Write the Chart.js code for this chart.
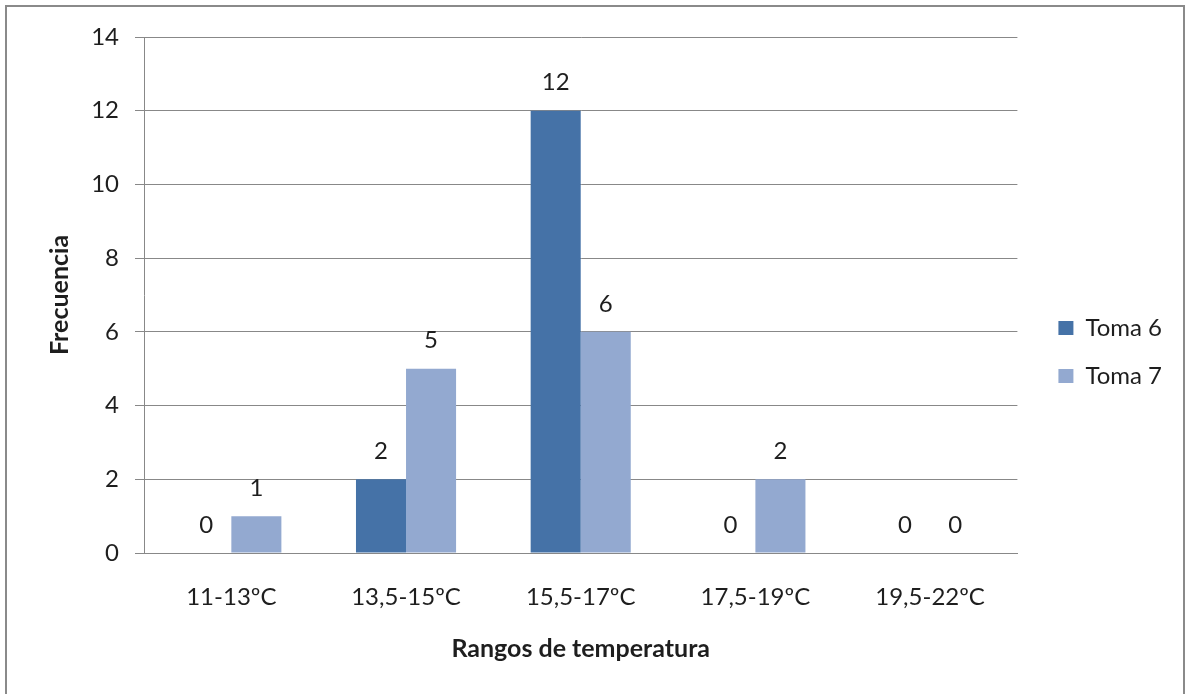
<!DOCTYPE html>
<html>
<head>
<meta charset="utf-8">
<script src="https://cdn.jsdelivr.net/npm/chart.js@4/dist/chart.umd.min.js"></script>
<style>
  html, body { margin: 0; padding: 0; background: #fff; overflow: hidden; }
  #wrap { position: absolute; left: 0; top: 0; width: 1185px; height: 694px; }
  #frame { position: absolute; left: 5px; top: 5px; width: 1176px; height: 700px;
           border: 2px solid #8a8a8a; pointer-events: none; }
</style>
</head>
<body>
<div id="wrap">
  <canvas id="c" width="1185" height="694"></canvas>
  <div id="frame"></div>
</div>
<script>
const categories = ['11-13ºC', '13,5-15ºC', '15,5-17ºC', '17,5-19ºC', '19,5-22ºC'];
const toma6 = [0, 2, 12, 0, 0];
const toma7 = [1, 5, 6, 2, 0];
const seriesNames = ['Toma 6', 'Toma 7'];
const yTicks = [0, 2, 4, 6, 8, 10, 12, 14];

const FONT = 'Lato, "Open Sans", sans-serif';
const TXT = '#1e1e1e';
const GRID = '#888888';
const FS = 24;

const valueLabels = {
  id: 'valueLabels',
  afterDatasetsDraw(chart) {
    const ctx = chart.ctx;
    ctx.save();
    ctx.font = FS + 'px ' + FONT;
    ctx.fillStyle = TXT;
    ctx.textAlign = 'center';
    ctx.textBaseline = 'middle';
    chart.data.datasets.forEach((ds, i) => {
      const meta = chart.getDatasetMeta(i);
      meta.data.forEach((bar, j) => {
        ctx.fillText(String(ds.data[j]), bar.x, bar.y - 28);
      });
    });
    ctx.restore();
  }
};

// place the legend block beside the plot like the original (box 41px right of plot, first row at y 328)
const legendPlacer = {
  id: 'legendPlacer',
  beforeDraw(chart) {
    const lg = chart.legend;
    if (!lg) return;
    const pad = lg.options.labels.padding;
    const itemH = Math.max(lg.options.labels.font.size, lg.options.labels.boxHeight);
    const dx = (chart.chartArea.right + 41) - (lg.left + pad);
    const dy = (328 - itemH / 2) - (lg.top + pad);
    lg.left += dx; lg.right += dx;
    lg.top += dy; lg.bottom += dy;
  }
};

new Chart(document.getElementById('c'), {
  type: 'bar',
  data: {
    labels: categories,
    datasets: [
      { label: seriesNames[0], data: toma6, backgroundColor: '#4572A7' },
      { label: seriesNames[1], data: toma7, backgroundColor: '#93A9D0' }
    ]
  },
  options: {
    responsive: false,
    animation: false,
    layout: { padding: { left: 0, right: 30, top: 37, bottom: 0 } },
    datasets: { bar: { categoryPercentage: 0.573, barPercentage: 1.0 } },
    plugins: {
      tooltip: { enabled: false },
      legend: {
        position: 'right',
        align: 'start',
        labels: {
          font: { family: FONT, size: FS },
          color: TXT,
          boxWidth: 15,
          boxHeight: 14,
          padding: 24
        }
      }
    },
    scales: {
      x: {
        grid: { display: false, drawTicks: false },
        border: { display: true, color: GRID, width: 1 },
        ticks: { font: { family: FONT, size: FS }, color: TXT, padding: 30, maxRotation: 0 },
        title: { display: true, text: 'Rangos de temperatura',
                 font: { family: FONT, size: 25, weight: 'bold' }, color: TXT,
                 padding: { top: 0, bottom: 30 } },
        afterFit(scale) { scale.height = 694 - 553; }
      },
      y: {
        min: 0, max: 14,
        afterBuildTicks(scale) { scale.ticks = yTicks.map(v => ({ value: v })); },
        grid: { color: GRID, tickColor: GRID, tickLength: 9, drawTicks: true },
        border: { display: true, color: GRID, width: 1 },
        ticks: { font: { family: FONT, size: FS }, color: TXT, padding: 16 },
        title: { display: true, text: 'Frecuencia',
                 font: { family: FONT, size: 25, weight: 'bold' }, color: TXT,
                 padding: { top: 45, bottom: 0 } },
        afterFit(scale) { scale.width = 144; }
      }
    }
  },
  plugins: [valueLabels, legendPlacer]
});
</script>
</body>
</html>
